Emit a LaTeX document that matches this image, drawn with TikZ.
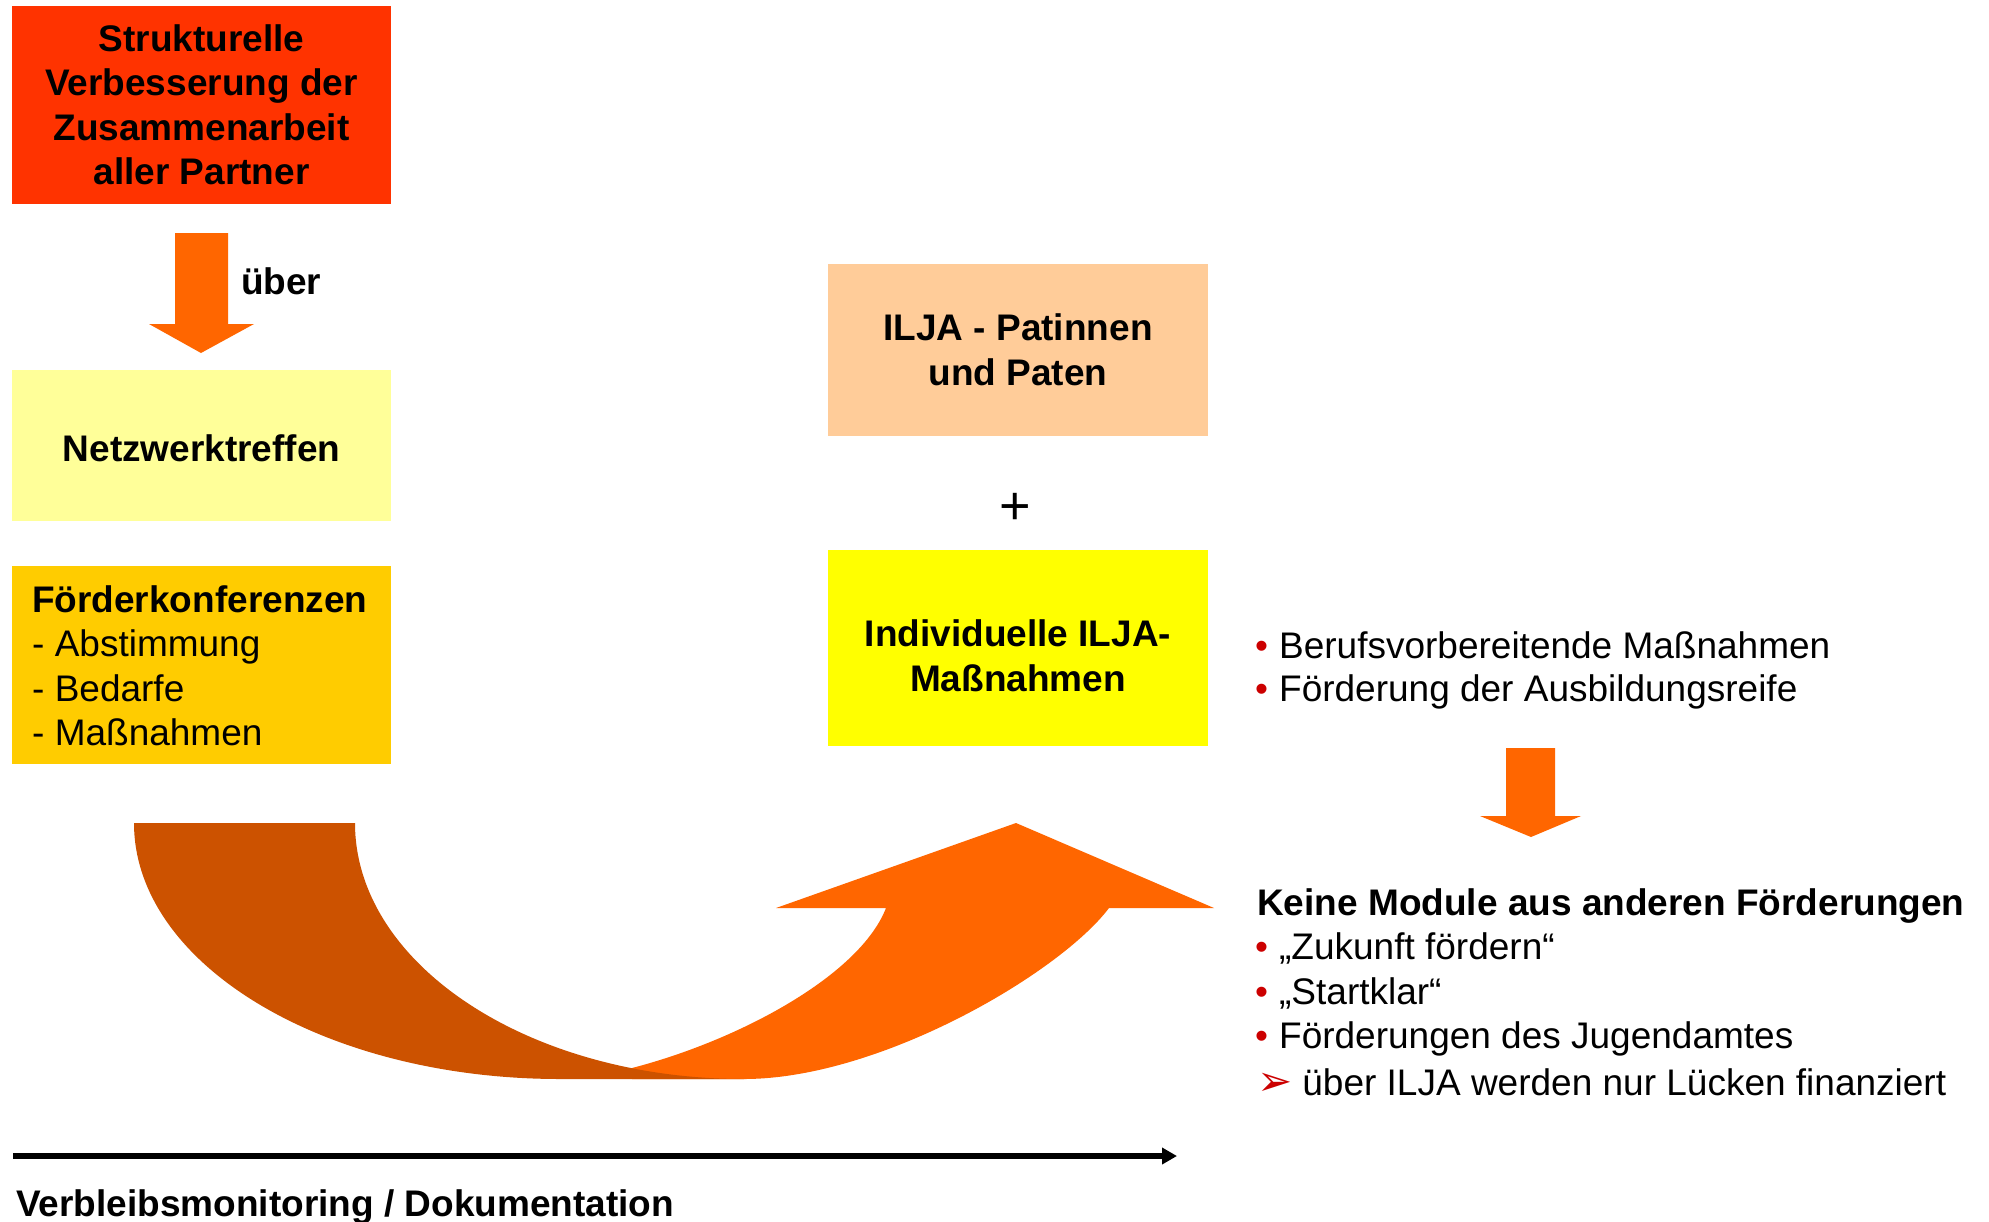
\documentclass[tikz,border=0pt]{standalone}
\usepackage{fontspec}
\setmainfont{Liberation Sans}
\newfontfamily\symfont{DejaVu Sans}
\usetikzlibrary{arrows.meta}
\definecolor{boxred}{HTML}{FF3300}
\definecolor{boxlight}{HTML}{FFFF99}
\definecolor{boxgold}{HTML}{FFCC00}
\definecolor{boxpeach}{HTML}{FFCC99}
\definecolor{boxyellow}{HTML}{FFFF00}
\definecolor{arrorange}{HTML}{FF6600}
\definecolor{arrbrown}{HTML}{CC5200}
\definecolor{bulred}{HTML}{CC0000}
\newcommand{\rbul}{{\color{bulred}\textbullet}\hspace{11pt}}
\begin{document}
\begin{tikzpicture}[x=1pt,y=-1pt,
  fbox/.style={inner sep=0pt, align=center, minimum width=379pt,
    font=\bfseries\fontsize{37}{44.5}\selectfont},
  btxt/.style={inner sep=0pt, anchor=west, align=left,
    font=\fontsize{37}{44.5}\selectfont},
  bbtxt/.style={inner sep=0pt, anchor=west, align=left,
    font=\bfseries\fontsize{37}{44.5}\selectfont}]
\useasboundingbox (0,0) rectangle (1989,1221);
\fill[white] (0,0) rectangle (1989,1221);

% left column
\node[fbox, fill=boxred, minimum height=198pt] (struk) at (201.5,105)
  {Strukturelle\\Verbesserung der\\Zusammenarbeit\\aller Partner};
\fill[arrorange] (175,233) -- (228,233) -- (228,324) -- (254,324) -- (201,353)
  -- (149,324) -- (175,324) -- cycle;
\node[bbtxt] (ueber) at (241,281) {über};
\node[fbox, fill=boxlight, minimum height=151pt] (netz) at (201.5,445.5) {};
\node[fbox] (netztext) at (201.5,448) {Netzwerktreffen};
\node[fbox, fill=boxgold, minimum height=198pt] (foerd) at (201.5,665) {};
\node[btxt] (foerdtext) at (32,666)
  {\textbf{Förderkonferenzen}\\- Abstimmung\\- Bedarfe\\- Maßnahmen};

% middle column
\node[fbox, fill=boxpeach, minimum height=172pt, minimum width=380pt] (ilja) at (1018,350)
  {ILJA - Patinnen\\und Paten};
\node[inner sep=0pt, font=\fontsize{54}{54}\selectfont] (plus) at (1015,509) {+};
\node[fbox, fill=boxyellow, minimum height=196pt, minimum width=380pt] (indiv) at (1018,648) {};
\node[fbox, minimum width=380pt] (indivtext) at (1018,656) {Individuelle ILJA-\\Maßnahmen};

% curved arrow
\fill[arrorange] (886,908) -- (776,908) -- (1016,823) -- (1214,908) -- (1109,908)
  .. controls (1060,973) and (880,1079) .. (744,1079)
  -- (632,1079) -- (632,1068)
  .. controls (740,1040) and (860,975) .. (886,908) -- cycle;
\fill[arrbrown] (134,823) -- (355,823)
  .. controls (355,964.4) and (529.2,1079) .. (744,1079)
  -- (560,1079)
  .. controls (324.7,1079) and (134,964.4) .. (134,823) -- cycle;

% right column
\node[btxt] (b1) at (1255,645) {\rbul Berufsvorbereitende Maßnahmen};
\node[btxt] (b2) at (1255,692) {\rbul Förderung der Ausbildungsreife};
\fill[arrorange] (1506,748) -- (1555,748) -- (1555,816) -- (1581,816) -- (1531,837)
  -- (1480,816) -- (1506,816) -- cycle;
\node[bbtxt] (keine) at (1257,906) {Keine Module aus anderen Förderungen};
\node[btxt] (k1) at (1255,948) {\rbul „Zukunft fördern“};
\node[btxt] (k2) at (1255,993) {\rbul „Startklar“};
\node[btxt] (k3) at (1255,1039) {\rbul Förderungen des Jugendamtes};
\node[btxt] (k4) at (1257,1082) {{\symfont\color{bulred}\fontsize{42}{42}\selectfont ➢}\hspace{10pt}über ILJA werden nur Lücken finanziert};

% bottom timeline
\coordinate (tl) at (13,1156);
\coordinate (tr) at (1177,1156);
\draw[line width=6pt, -{Triangle[length=15pt,width=16pt]}] (tl) -- (tr);
\node[bbtxt] (verb) at (16,1207) {Verbleibsmonitoring / Dokumentation};
\end{tikzpicture}
\end{document}
